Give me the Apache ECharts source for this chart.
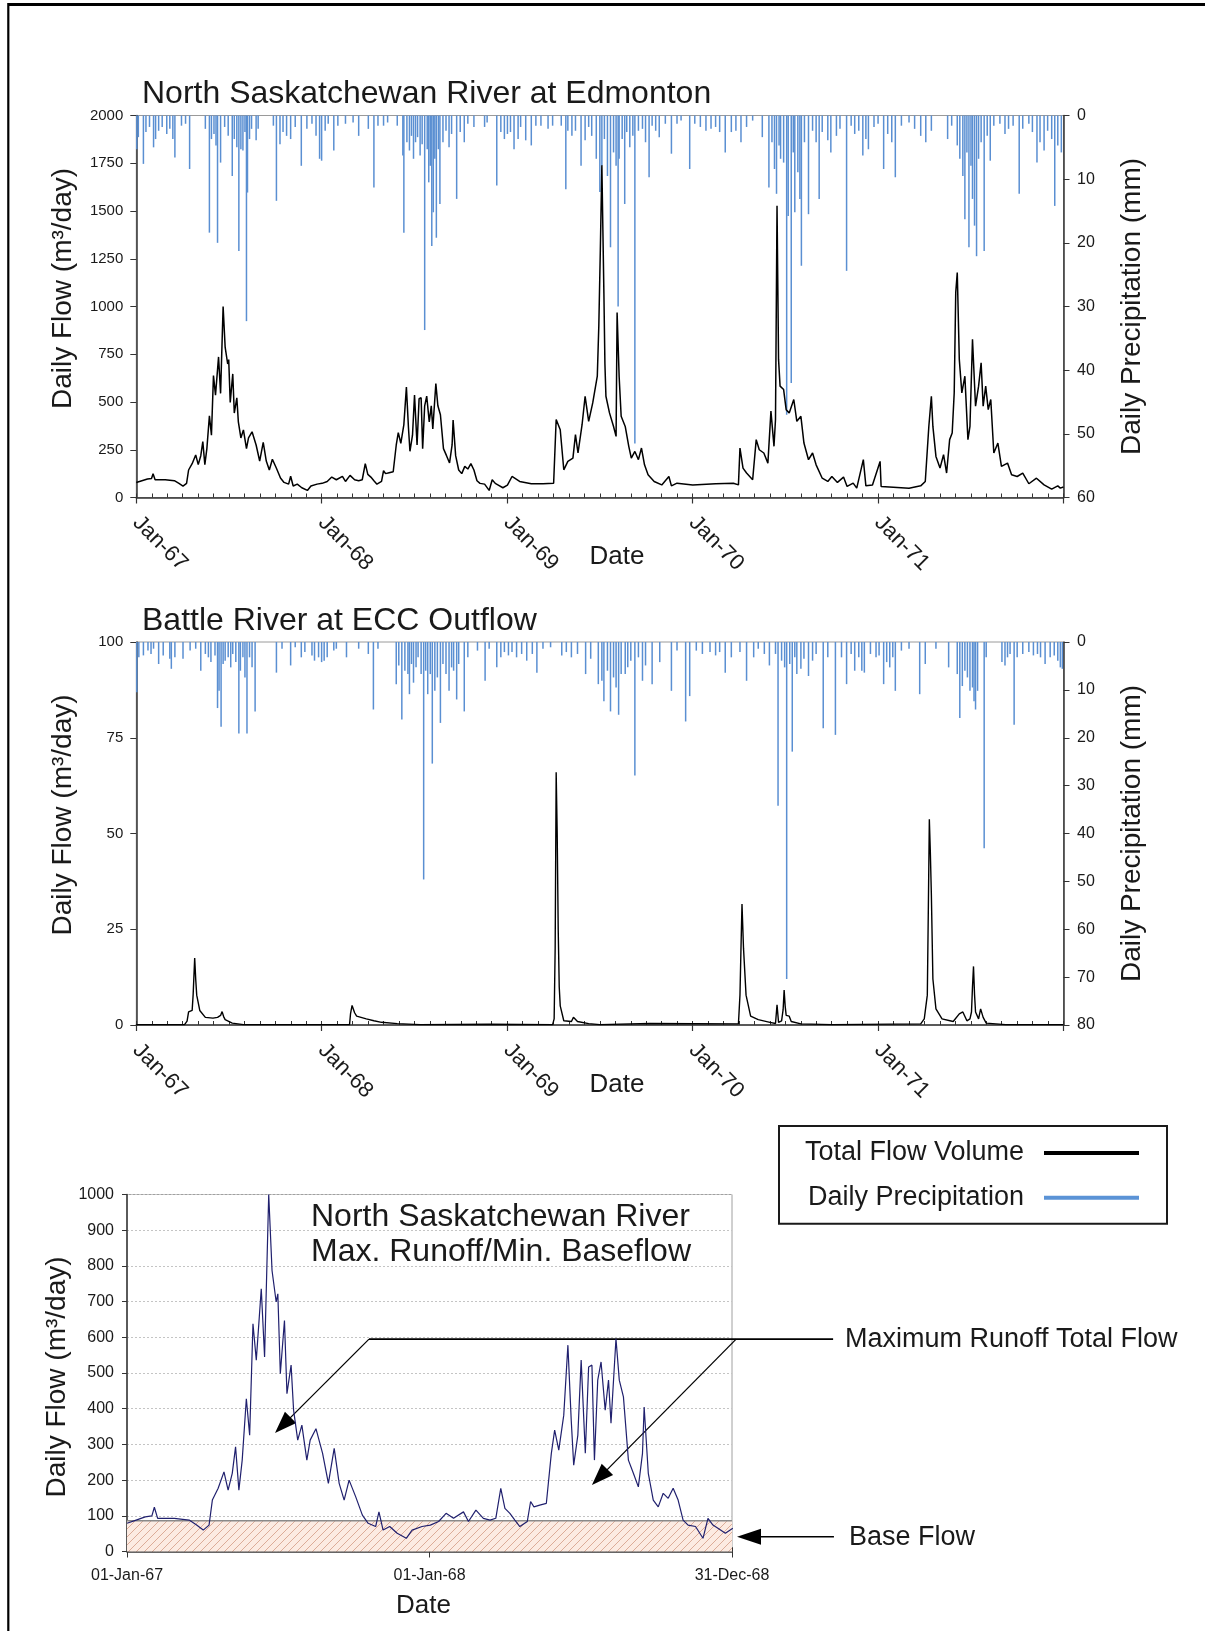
<!DOCTYPE html>
<html><head><meta charset="utf-8">
<script src="https://cdn.jsdelivr.net/npm/echarts@6/dist/echarts.min.js"></script>
<style>html,body{margin:0;padding:0;background:#fff}#c{width:1205px;height:1631px}</style>
</head><body><div id="c"></div>
<script>
// ---------- DATA (day index from 01-Jan-1967) ----------
const yearLabels = ['Jan-67', 'Jan-68', 'Jan-69', 'Jan-70', 'Jan-71'];
const dateLabels3 = ['01-Jan-67', '01-Jan-68', '31-Dec-68'];

// North Saskatchewan River at Edmonton, daily flow
const nsrFlow = [[0,79],[2,79],[11,88],[22,97],[30,100],[33,124],[37,93],[57,93],[75,88],[84,74],[92,60],[99,74],[103,144],[110,177],[117,223],[122,172],[127,219],[131,293],[135,172],[139,256],[144,428],[148,326],[152,638],[156,536],[162,736],[166,545],[171,1000],[175,787],[180,699],[182,722],[185,498],[190,647],[193,442],[198,522],[201,396],[206,312],[211,354],[217,256],[221,312],[228,344],[236,275],[243,191],[250,289],[256,191],[262,144],[268,200],[276,153],[284,102],[291,79],[300,70],[304,111],[309,60],[317,70],[326,51],[337,37],[344,60],[356,70],[366,74],[376,84],[385,107],[394,93],[406,111],[412,84],[421,116],[430,93],[438,88],[445,93],[451,177],[456,121],[462,107],[468,88],[474,70],[483,84],[487,140],[491,125],[498,130],[506,135],[512,275],[516,340],[521,284],[527,382],[532,578],[536,368],[539,242],[544,326],[548,536],[553,275],[557,517],[561,522],[564,256],[568,480],[572,531],[577,396],[581,480],[584,359],[590,596],[594,480],[599,433],[605,256],[611,219],[617,181],[622,275],[624,405],[629,219],[635,144],[641,125],[647,163],[653,149],[659,177],[665,144],[671,88],[677,74],[686,70],[695,37],[701,93],[707,74],[713,65],[722,51],[731,65],
[740,110],[755,84],[778,72],[801,72],[822,75],[827,408],[835,355],[842,145],[850,189],[860,206],[865,329],[870,233],[878,381],[884,530],[891,399],[899,495],[908,635],[911,900],[914,1300],[917,1740],[919,1400],[921,1070],[923,700],[925,530],[932,443],[940,372],[945,320],[947,968],[951,635],[955,425],[963,372],[970,268],[975,206],[982,241],[989,198],[995,259],[1001,171],[1008,119],[1020,84],[1035,66],[1049,110],[1054,61],[1065,75],[1096,66],[1141,72],[1176,75],[1186,66],
[1189,259],[1195,154],[1202,128],[1214,93],[1221,303],[1227,250],[1236,233],[1244,180],[1250,452],[1256,268],[1259,408],[1262,1528],[1265,723],[1268,583],[1275,565],[1280,460],[1286,443],[1295,513],[1301,399],[1309,425],[1315,285],[1324,198],[1332,233],[1339,171],[1351,101],[1362,84],[1370,110],[1381,79],[1393,107],[1400,58],[1412,75],[1419,49],[1432,198],[1437,61],[1450,66],[1465,189],[1467,58],[1491,54],[1522,49],[1545,61],
[1554,84],[1561,372],[1566,530],[1569,372],[1575,215],[1583,154],[1590,224],[1596,128],[1602,303],[1607,338],[1611,548],[1614,1073],[1617,1178],[1621,723],[1626,548],[1632,635],[1638,303],[1642,372],[1647,828],[1653,478],[1659,583],[1664,705],[1668,478],[1673,583],[1678,460],[1683,513],[1689,233],[1697,285],[1704,163],[1716,180],[1724,119],[1735,110],[1746,128],[1758,72],[1773,101],[1788,66],[1803,44],[1815,61],[1820,49],[1826,55]];

// Battle River at ECC Outflow, daily flow
const brFlow = [[0,0.1],[95,0.1],[100,1.0],[103,3.4],[110,3.8],[112,8],[115,17.5],[117,12],[119,7.8],[125,3.8],[136,2.0],[151,1.8],[160,2.0],[166,2.5],[169,3.5],[172,2.2],[175,1.4],[189,0.5],[211,0.1],[420,0.1],[422,3],[425,5.1],[430,3.2],[434,2.3],[453,1.6],[468,1.1],[483,0.7],[514,0.35],[559,0.1],[695,0.2],[820,0.1],[823,1.6],[825,20],[827,66],[829,50],[831,25],[833,10],[835,5],[842,1.1],[857,0.9],[861,2.0],[869,0.9],[891,0.35],[913,0.1],[1012,0.4],[1186,0.3],[1189,7.8],[1191,20],[1193,31.6],[1196,20],[1201,7.8],[1210,2.3],[1225,1.4],[1248,0.7],[1259,0.4],[1262,5.3],[1265,0.7],[1271,1.1],[1274,4],[1276,9.1],[1278,5],[1280,2.5],[1286,2.3],[1290,0.9],[1309,0.3],[1370,0.1],[1545,0.3],[1552,1.6],[1558,7.8],[1560,30],[1562,53.7],[1564,45],[1566,34],[1569,12],[1575,4.2],[1587,1.6],[1609,0.9],[1621,2.9],[1628,3.4],[1636,1.1],[1642,1.6],[1645,3.4],[1647,10],[1649,15.3],[1651,8],[1653,3.4],[1659,1.6],[1663,4.2],[1668,2.0],[1674,0.5],[1712,0.1],[1826,0.1]];

// Daily precipitation (mm), Edmonton
const nsrPrecip = [[1,5.3],[4,3.4],[14,7.6],[19,2.6],[26,1.8],[34,5.0],[38,3.7],[44,2.4],[51,1.8],[60,2.9],[66,2.1],[72,3.7],[76,6.6],[89,1.6],[97,1.3],[105,8.4],[136,2.1],[144,18.4],[148,3.7],[153,2.9],[157,4.7],[160,20.0],[166,7.4],[174,1.8],[181,3.2],[189,9.5],[193,3.7],[198,5.0],[202,21.3],[206,5.3],[210,5.5],[214,2.6],[217,32.3],[219,12.1],[223,3.7],[227,2.1],[236,3.9],[240,2.1],[270,1.6],[276,13.4],[283,4.5],[289,2.6],[296,3.2],[304,3.7],[313,1.8],[325,7.9],[336,2.1],[346,1.3],[354,3.2],[361,6.8],[365,7.1],[372,2.4],[378,1.3],[389,5.5],[397,1.6],[412,1.3],[427,1.1],[438,3.2],[457,2.1],[468,11.3],[476,1.6],[487,1.6],[495,1.1],[514,1.6],[525,6.3],[527,18.4],[533,4.2],[538,5.5],[542,3.2],[546,6.8],[550,4.2],[554,3.4],[559,6.3],[563,4.5],[568,33.7],[573,5.3],[576,10.5],[579,7.9],[582,20.5],[585,15.2],[588,6.8],[591,19.2],[595,5.3],[598,13.9],[604,4.2],[610,2.4],[616,5.0],[621,2.9],[631,13.1],[638,2.6],[646,4.2],[653,1.3],[665,1.8],[686,1.8],[691,1.1],[710,11.0],[718,2.6],[725,3.7],[731,2.9],[737,2.6],[744,5.3],[752,3.7],[757,1.8],[767,3.9],[778,4.7],[787,1.6],[797,1.6],[811,2.1],[820,1.6],[837,1.6],[846,11.6],[850,2.4],[858,3.2],[865,2.4],[876,7.9],[884,3.9],[891,1.8],[897,3.2],[906,6.8],[913,12.0],[917,7.9],[922,3.7],[928,9.5],[934,20.7],[940,5.8],[945,7.9],[949,30.0],[951,6.8],[957,3.7],[962,13.9],[966,2.6],[972,5.0],[978,3.2],[982,51.5],[989,2.4],[997,2.1],[1003,4.2],[1010,9.7],[1016,1.6],[1023,2.4],[1030,3.4],[1042,1.3],[1054,6.0],[1065,1.3],[1073,0.8],[1090,8.4],[1100,1.3],[1111,1.8],[1122,2.4],[1132,2.1],[1141,1.8],[1149,2.6],[1160,5.8],[1172,2.6],[1181,2.4],[1191,4.2],[1202,1.8],[1214,0.8],[1233,3.4],[1246,11.3],[1252,4.2],[1257,8.4],[1261,12.3],[1266,4.7],[1269,6.8],[1275,7.4],[1281,47],[1284,15.8],[1290,42],[1294,5.8],[1297,15.2],[1303,8.9],[1307,13.1],[1310,23.6],[1316,4.2],[1324,15.5],[1332,2.4],[1339,4.2],[1345,13.1],[1351,2.6],[1362,3.9],[1368,5.8],[1379,3.2],[1386,2.1],[1399,24.4],[1408,1.6],[1415,2.9],[1423,2.4],[1431,6.3],[1437,3.7],[1442,5.3],[1453,1.8],[1461,1.3],[1472,8.4],[1480,2.9],[1488,4.2],[1495,9.7],[1507,1.6],[1522,1.1],[1533,2.1],[1545,3.2],[1555,4.2],[1566,2.4],[1598,3.7],[1606,1.6],[1617,4.7],[1622,6.8],[1628,9.5],[1632,16.3],[1636,5.8],[1640,20.7],[1644,7.9],[1647,13.1],[1651,17.3],[1655,22.1],[1659,6.8],[1664,4.2],[1670,21.3],[1676,3.2],[1682,7.1],[1689,1.6],[1701,1.3],[1711,2.9],[1718,2.1],[1727,1.6],[1739,12.3],[1746,2.1],[1758,1.3],[1765,2.6],[1774,7.4],[1780,4.2],[1788,5.5],[1795,2.4],[1803,3.7],[1809,14.2],[1815,4.7],[1822,5.8]];

// Daily precipitation (mm), Battle River
const brPrecip = [[1,10.5],[5,3.2],[14,2.8],[23,1.8],[29,2.5],[34,1.4],[44,4.6],[53,2.8],[66,3.5],[69,5.6],[76,3.2],[92,3.5],[106,1.8],[117,1.4],[127,6.0],[136,2.5],[142,3.2],[147,4.2],[155,2.8],[160,13.8],[163,10.2],[167,17.7],[171,4.6],[175,3.9],[181,3.2],[186,5.3],[190,2.5],[196,4.2],[202,19.1],[205,6.0],[210,3.2],[214,7.4],[218,19.1],[223,3.2],[228,5.3],[234,14.5],[276,6.4],[287,1.4],[304,4.9],[313,1.1],[325,3.2],[332,2.1],[346,2.8],[351,3.9],[359,3.2],[365,4.2],[370,3.9],[376,3.2],[389,1.8],[394,1.4],[414,3.2],[438,1.4],[457,2.5],[467,14.1],[476,1.4],[512,8.8],[517,4.9],[523,16.2],[529,6.0],[535,6.7],[538,10.9],[542,4.6],[546,8.5],[551,5.3],[555,3.2],[561,6.7],[566,49.6],[570,6.0],[574,10.9],[579,6.7],[583,25.4],[588,10.2],[593,7.4],[599,16.9],[604,4.6],[610,6.7],[616,10.2],[621,5.3],[625,6.0],[631,12.0],[635,4.6],[646,14.5],[653,3.2],[672,1.8],[687,8.1],[695,1.4],[710,5.3],[718,3.2],[725,2.1],[733,2.8],[740,2.1],[749,3.2],[759,2.5],[769,3.9],[780,2.5],[789,6.4],[801,1.4],[816,1.1],[838,2.8],[847,2.1],[857,3.2],[869,2.5],[885,6.7],[895,3.5],[910,8.8],[917,8.1],[921,12.4],[928,6.0],[934,14.5],[940,7.4],[945,9.5],[950,15.2],[955,6.7],[963,6.7],[968,5.3],[974,3.9],[982,27.9],[989,3.2],[997,8.1],[1003,4.9],[1016,8.8],[1031,4.2],[1054,10.2],[1065,1.8],[1082,16.6],[1090,11.3],[1103,1.8],[1115,2.5],[1130,2.1],[1141,2.8],[1149,2.1],[1160,6.4],[1172,3.2],[1189,2.1],[1202,8.1],[1216,3.2],[1225,1.4],[1237,2.5],[1247,4.9],[1259,2.5],[1264,34.2],[1271,3.9],[1277,5.3],[1281,70.4],[1287,4.6],[1292,22.9],[1297,3.2],[1301,6.7],[1309,5.6],[1315,3.5],[1324,7.1],[1332,3.9],[1339,2.5],[1353,18.0],[1362,3.2],[1377,19.4],[1389,3.2],[1399,8.8],[1408,2.5],[1415,6.0],[1423,3.2],[1429,6.0],[1434,6.4],[1446,2.5],[1457,3.2],[1463,2.8],[1472,8.8],[1478,4.2],[1484,5.3],[1490,3.2],[1495,10.2],[1507,1.8],[1522,1.4],[1543,10.9],[1554,4.6],[1575,1.4],[1600,5.3],[1617,6.7],[1622,15.9],[1627,9.2],[1632,6.0],[1637,7.4],[1642,10.2],[1647,9.5],[1650,12.4],[1653,14.1],[1657,10.2],[1670,43.1],[1674,3.2],[1705,4.2],[1711,4.9],[1716,3.2],[1721,2.5],[1729,17.3],[1735,3.2],[1746,2.5],[1758,2.1],[1767,2.8],[1775,2.5],[1781,3.2],[1790,4.6],[1800,3.2],[1808,2.8],[1815,3.9],[1820,5.3],[1824,5.6]];

// Bottom panel: base flow level and callout anchor points (data units of that panel)
const baseFlow = 86;
const runoffCallout = { level: 595, startDay: 292, endDay: 852, fork2Day: 735, tips: [[178.6, 332], [561, 186]] };
const baseCallout = { level: 41.5, fromDay: 853, tipDay: 736 };

// ---------- CHART ----------
const FONT = '"Liberation Sans", Arial, Helvetica, sans-serif';
const INK = '#1a1a1a';
const BLUE = '#5a8fd2';
const chart = echarts.init(document.getElementById('c'));

function hatchPattern() {
  const c = document.createElement('canvas'); c.width = 8; c.height = 8;
  const g = c.getContext('2d');
  g.fillStyle = '#fcebe2'; g.fillRect(0, 0, 8, 8);
  g.strokeStyle = '#d8a590'; g.lineWidth = 0.9;
  g.beginPath(); g.moveTo(-1, 9); g.lineTo(9, -1); g.moveTo(-1, 1); g.lineTo(1, -1); g.moveTo(7, 9); g.lineTo(9, 7); g.stroke();
  return c;
}

const plain = v => String(v);
const YEARS = 365.25;
function mainX(gi) {
  return { gridIndex: gi, type: 'value', position: 'bottom', min: 0, max: 5 * YEARS, interval: YEARS,
    axisLine: { onZero: false, lineStyle: { color: '#333', width: 1.5 } },
    axisTick: { length: 6, lineStyle: { color: '#333', width: 1.2 } },
    axisLabel: { rotate: -45, margin: 22, fontSize: 22, color: INK, formatter: v => yearLabels[Math.round(v / YEARS)] || '' },
    splitLine: { show: false },
    name: 'Date', nameLocation: 'middle', nameGap: 46.5, nameMoveOverlap: false,
    nameTextStyle: { fontSize: 26, lineHeight: 26, color: INK, padding: [0, 0, 0, 34] } };
}
function monthX(gi, max, interval) {
  return { gridIndex: gi, type: 'value', position: 'bottom', min: 0, max: max, interval: interval,
    axisLine: { show: false, onZero: false }, axisTick: { inside: true, length: 4, lineStyle: { color: '#333', width: 1 } },
    axisLabel: { show: false }, splitLine: { show: false } };
}
function flowY(gi, max, interval, gap, pad) {
  return { gridIndex: gi, type: 'value', position: 'left', min: 0, max: max, interval: interval,
    axisLine: { show: true, onZero: false, lineStyle: { color: '#333', width: 1.5 } },
    axisTick: { show: true, length: 6, lineStyle: { color: '#333' } },
    axisLabel: { fontSize: 15, margin: 13, color: INK, formatter: plain },
    splitLine: { show: false },
    name: 'Daily Flow (m³/day)', nameLocation: 'middle', nameRotate: 90, nameGap: gap, nameMoveOverlap: false,
    nameTextStyle: { fontSize: 28, lineHeight: 28, color: INK, padding: pad } };
}
function precipY(gi, max) {
  return { gridIndex: gi, type: 'value', position: 'right', inverse: true, min: 0, max: max, interval: 10,
    axisLine: { show: true, onZero: false, lineStyle: { color: '#333', width: 1.5 } },
    axisTick: { show: true, length: 6, lineStyle: { color: '#333' } },
    axisLabel: { fontSize: 16, margin: 13.5, color: INK, formatter: plain },
    splitLine: { show: false },
    name: 'Daily Precipitation (mm)', nameLocation: 'middle', nameRotate: 90, nameGap: 54.5, nameMoveOverlap: false,
    nameTextStyle: { fontSize: 28, lineHeight: 28, color: INK } };
}

const y3 = flowY(2, 1000, 100, 56, [0, 8, 0, 0]);
y3.axisLabel.fontSize = 16;
y3.axisTick.length = 5;
y3.splitLine = { show: true, lineStyle: { type: [2, 2], color: '#c4c4c4', width: 1 } };

const x3 = { gridIndex: 2, type: 'value', position: 'bottom', min: 0, max: 730, interval: 365,
  axisLine: { onZero: false, lineStyle: { color: '#333', width: 1.5 } },
  axisTick: { length: 6, lineStyle: { color: '#333' } },
  axisLabel: { fontSize: 16, margin: 16, color: INK, formatter: v => dateLabels3[Math.round(v / 365)] || '' },
  splitLine: { show: false },
  name: 'Date', nameLocation: 'middle', nameGap: 41, nameMoveOverlap: false,
  nameTextStyle: { fontSize: 26, lineHeight: 26, color: INK, padding: [0, 12, 0, 0] } };

const option = {
  animation: false,
  backgroundColor: '#fff',
  textStyle: { fontFamily: FONT },
  title: [
    { text: 'North Saskatchewan River at Edmonton', left: 142, top: 76.6, padding: 0,
      textStyle: { fontSize: 32, fontWeight: 'normal', color: INK, lineHeight: 36 } },
    { text: 'Battle River at ECC Outflow', left: 142, top: 603, padding: 0,
      textStyle: { fontSize: 32, fontWeight: 'normal', color: INK, lineHeight: 36 } }
  ],
  legend: {
    left: 779, top: 1126, orient: 'vertical', align: 'right',
    padding: [12, 28, 11, 20], itemGap: 14.7, itemWidth: 95, itemHeight: 4,
    borderColor: '#1a1a1a', borderWidth: 2, selectedMode: false,
    textStyle: { fontSize: 27, color: INK, width: 225, align: 'right', lineHeight: 30, padding: [0, 15, 0, 0] },
    data: [
      { name: 'Total Flow Volume', icon: 'rect', itemStyle: { color: '#000' }, lineStyle: { width: 3.5, color: '#000' } },
      { name: 'Daily Precipitation', icon: 'rect', itemStyle: { color: '#5b93d6' } }
    ]
  },
  grid: [
    { left: 136.3, top: 115.5, width: 927.2, height: 382, show: true, borderColor: '#9a9a9a', borderWidth: 1, containLabel: false },
    { left: 136.3, top: 642, width: 927.2, height: 383, show: true, borderColor: '#9a9a9a', borderWidth: 1, containLabel: false },
    { left: 127, top: 1194.5, width: 605, height: 357, show: true, borderColor: '#a0a0a0', borderWidth: 1, containLabel: false }
  ],
  xAxis: [ mainX(0), monthX(0, 5 * YEARS, YEARS / 12), mainX(1), monthX(1, 5 * YEARS, YEARS / 12), x3, monthX(2, 730, 730 / 24) ],
  yAxis: [ flowY(0, 2000, 250, 58.8, [0, 0, 0, 36]), precipY(0, 60), flowY(1, 100, 25, 58.8, [0, 0, 0, 37]), precipY(1, 80), y3 ],
  series: [
    { name: 'Daily Precipitation', type: 'bar', xAxisIndex: 0, yAxisIndex: 1, data: nsrPrecip, barWidth: 1.5,
      itemStyle: { color: BLUE }, silent: true },
    { name: 'Total Flow Volume', type: 'line', xAxisIndex: 0, yAxisIndex: 0, data: nsrFlow, showSymbol: false,
      color: '#000', lineStyle: { color: '#000', width: 1.5 }, silent: true },
    { name: 'Daily Precipitation', type: 'bar', xAxisIndex: 2, yAxisIndex: 3, data: brPrecip, barWidth: 1.5,
      itemStyle: { color: BLUE }, silent: true },
    { name: 'Total Flow Volume', type: 'line', xAxisIndex: 2, yAxisIndex: 2, data: brFlow, showSymbol: false,
      color: '#000', lineStyle: { color: '#000', width: 1.4 }, silent: true },
    { name: 'Base Flow', type: 'line', xAxisIndex: 4, yAxisIndex: 4, data: [[0, baseFlow], [730, baseFlow]], showSymbol: false,
      lineStyle: { color: '#8a8a8a', width: 1.5 }, areaStyle: { color: { image: hatchPattern(), repeat: 'repeat' }, opacity: 1 },
      z: 1, silent: true },
    { name: 'NSR 1967-68 flow', type: 'line', xAxisIndex: 4, yAxisIndex: 4, data: nsrFlow.filter(p => p[0] <= 731),
      showSymbol: false, color: '#20206e', lineStyle: { color: '#20206e', width: 1.2 }, z: 3, silent: true }
  ]
};
chart.setOption(option);

// ---------- annotations ----------
const P = pt => chart.convertToPixel({ seriesIndex: 5 }, pt);
function arrowHead(tip, from, len, hw) {
  const dx = tip[0] - from[0], dy = tip[1] - from[1];
  const L = Math.hypot(dx, dy), ux = dx / L, uy = dy / L;
  const bx = tip[0] - ux * len, by = tip[1] - uy * len;
  return { poly: [tip, [bx - uy * hw, by + ux * hw], [bx + uy * hw, by - ux * hw]], base: [bx + ux * 2, by + uy * 2] };
}
function seg(a, b, w) {
  return { type: 'line', shape: { x1: a[0], y1: a[1], x2: b[0], y2: b[1] }, style: { stroke: '#000', lineWidth: w }, silent: true };
}
function tri(points) { return { type: 'polygon', shape: { points: points }, style: { fill: '#000' }, silent: true }; }
function txt(x, y, text, size) {
  return { type: 'text', x: x, y: y, silent: true,
    style: { text: text, fontSize: size, fontFamily: FONT, fill: INK, align: 'left', verticalAlign: 'middle' } };
}

const hA = P([runoffCallout.startDay, runoffCallout.level]);
const hB = P([runoffCallout.endDay, runoffCallout.level]);
const f2 = P([runoffCallout.fork2Day, runoffCallout.level]);
const t1 = P(runoffCallout.tips[0]);
const t2 = P(runoffCallout.tips[1]);
const bFrom = P([baseCallout.fromDay, baseCallout.level]);
const bTip = P([baseCallout.tipDay, baseCallout.level]);
const a1 = arrowHead(t1, hA, 22, 8);
const a2 = arrowHead(t2, f2, 22, 8);
const a3 = arrowHead(bTip, bFrom, 24, 8);

chart.setOption({
  graphic: [
    seg([8, 4.5], [1205, 4.5], 3),
    seg([8.3, 3], [8.3, 1631], 2.2),
    txt(311, 1217, 'North Saskatchewan River', 32),
    txt(311, 1252.5, 'Max. Runoff/Min. Baseflow', 32),
    seg(hA, hB, 1.8),
    seg(hA, a1.base, 1.3), tri(a1.poly),
    seg(f2, a2.base, 1.3), tri(a2.poly),
    seg(bFrom, a3.base, 1.5), tri(a3.poly),
    txt(845, 1340, 'Maximum Runoff Total Flow', 27),
    txt(849, 1538, 'Base Flow', 27)
  ]
});
</script>
</body></html>
